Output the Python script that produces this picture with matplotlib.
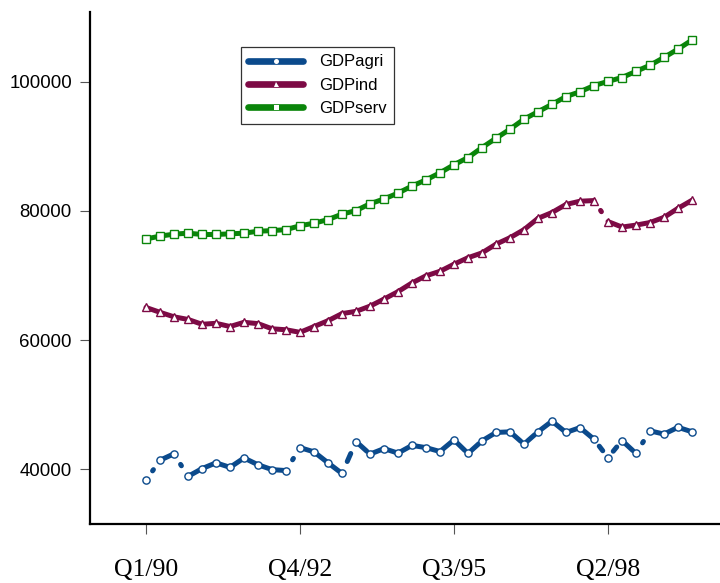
import matplotlib
matplotlib.use("Agg")
import matplotlib.pyplot as plt
import numpy as np
from matplotlib.collections import LineCollection
from matplotlib.lines import Line2D

# quarterly GDP by sector, Q1/90 .. Q4/99
quarters = [f"Q{q}/{yr}" for yr in range(90, 100) for q in range(1, 5)]

gdp_agri = [38300, 41400, 42400, 38900, 40100, 41000, 40300, 41750, 40700, 39950,
            39800, 43350, 42700, 41000, 39350, 44300, 42350, 43200, 42500, 43700,
            43350, 42750, 44550, 42450, 44400, 45700, 45800, 43900, 45800, 47450,
            45700, 46450, 44650, 41800, 44450, 42450, 45950, 45450, 46500, 45800]
gdp_ind = [65050, 64300, 63600, 63200, 62450, 62600, 62100, 62750, 62550, 61750,
           61600, 61200, 62100, 63000, 64100, 64450, 65250, 66350, 67500, 68850,
           69950, 70650, 71750, 72750, 73500, 74850, 75850, 77100, 78850, 79750,
           81000, 81500, 81600, 78350, 77500, 77800, 78200, 79000, 80400, 81650]
gdp_serv = [75650, 76100, 76400, 76550, 76350, 76350, 76450, 76550, 76850, 76950,
            77100, 77700, 78100, 78650, 79500, 80050, 81100, 81850, 82750, 83850,
            84800, 85900, 87150, 88250, 89800, 91250, 92650, 94200, 95350, 96500,
            97700, 98450, 99400, 100050, 100650, 101600, 102550, 103750, 105050, 106450]

series_names = ["GDPagri", "GDPind", "GDPserv"]
series_values = [gdp_agri, gdp_ind, gdp_serv]
colors = ["#0b4a8c", "#7d0a45", "#0a850a"]
markers = ["o", "^", "s"]

tick_labels = ["Q1/90", "Q4/92", "Q3/95", "Q2/98"]
y_ticks = [40000, 60000, 80000, 100000]


def visible_fraction(step):
    # the original renderer breaks up the steep segments
    step = abs(step)
    if step < 1900:
        return 1.0
    if step < 2400:
        return 0.55
    if step < 3000 or step > 4500:
        return 0.25
    return 0.06


fig = plt.figure(figsize=(7.2, 5.83), dpi=100)
ax = fig.add_axes([0.125, 0.1012, 0.875, 0.8782])

x = np.arange(len(quarters))
for name, vals, col, mk in zip(series_names, series_values, colors, markers):
    v = np.asarray(vals, dtype=float)
    segs = []
    for i in range(len(v) - 1):
        f = visible_fraction(v[i + 1] - v[i])
        a = (1 - f) / 2
        b = 1 - a
        segs.append([(x[i] + a, v[i] + a * (v[i + 1] - v[i])),
                     (x[i] + b, v[i] + b * (v[i + 1] - v[i]))])
    lc = LineCollection(segs, colors=col, linewidths=3.6, capstyle="round", zorder=2)
    ax.add_collection(lc)
    ax.plot(x, v, linestyle="none", marker=mk, markersize=5.2,
            markerfacecolor="white", markeredgecolor=col, markeredgewidth=1.0, zorder=3)

ax.set_xlim(-4, 41)
ax.set_ylim(31530, 110790)

ax.set_xticks([quarters.index(t) for t in tick_labels])
ax.set_xticklabels(tick_labels, fontfamily="Liberation Serif", fontsize=18.5)
ax.set_yticks(y_ticks)
ax.set_yticklabels([str(t) for t in y_ticks], fontfamily="Liberation Sans", fontsize=13.4)

ax.tick_params(axis="x", direction="out", length=7, width=0.8, color="#555555", pad=18)
ax.tick_params(axis="y", direction="out", length=7, width=0.8, color="#555555", pad=6)

for s in ["top", "right"]:
    ax.spines[s].set_visible(False)
for s in ["left", "bottom"]:
    ax.spines[s].set_linewidth(1.6)
    ax.spines[s].set_color("black")

handles = [Line2D([], [], color=c, lw=4.8, solid_capstyle="round", marker=m, markersize=3.6,
                  markerfacecolor="white", markeredgewidth=0)
           for c, m in zip(colors, markers)]
leg = ax.legend(handles, series_names, loc="upper left",
                bbox_to_anchor=(0.3347, 0.9194), bbox_transform=fig.transFigure,
                prop={"family": "Liberation Sans", "size": 12},
                handlelength=3.3, handletextpad=0.95, labelspacing=0.5,
                borderpad=0.45, borderaxespad=0, fancybox=False, frameon=True)
leg.get_frame().set_edgecolor("black")
leg.get_frame().set_linewidth(0.9)

fig.savefig("out.png", dpi=100)
